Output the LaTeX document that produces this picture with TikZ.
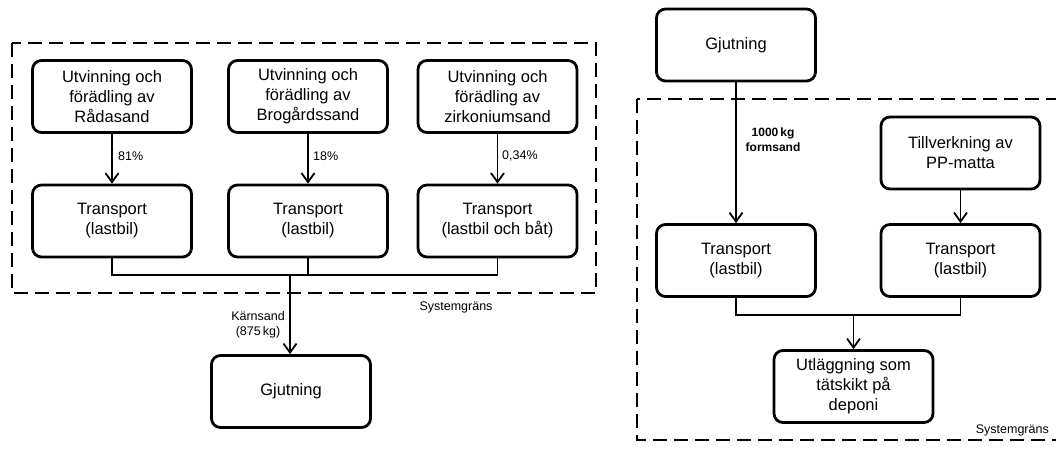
\documentclass[tikz,border=0pt]{standalone}
\usepackage{fontspec}
\setmainfont{Liberation Sans}
\usetikzlibrary{arrows.meta}
\begin{document}
\begin{tikzpicture}[x=1pt,y=-1pt,
  procbox/.style={draw, line width=2.8pt, rounded corners=9pt,
    minimum width=159pt, minimum height=72pt, align=center,
    font=\fontsize{16.5}{20}\selectfont, inner sep=2pt},
  flow/.style={line width=1.6pt,
    -{Straight Barb[length=9pt,width=13pt,line width=1.8pt]}},
  link/.style={line width=1.6pt},
  boundary/.style={line width=2pt, dash pattern=on 14pt off 7pt},
  lbl/.style={font=\fontsize{12.5}{15}\selectfont, inner sep=0pt, align=center}]
\useasboundingbox (0,0) rectangle (1056,449);

% ---------------- core sand system ----------------
\draw[boundary] (12,43) rectangle (596,293);

\node[procbox] (u1) at (112,96.5) {Utvinning och\\förädling av\\Rådasand};
\node[procbox] (u2) at (308,96.5) {Utvinning och\\förädling av\\Brogårdssand};
\node[procbox] (u3) at (497.5,96.5) {Utvinning och\\förädling av\\zirkoniumsand};

\node[procbox] (t1) at (112,221) {Transport\\(lastbil)};
\node[procbox] (t2) at (308,221) {Transport\\(lastbil)};
\node[procbox] (t3) at (497.5,221) {Transport\\(lastbil och båt)};

\draw[flow] (u1) -- (t1);
\draw[flow] (u2) -- (t2);
\draw[flow] (u3) -- (t3);
\node[lbl, anchor=west] (p1) at (118,156) {81\%};
\node[lbl, anchor=west] (p2) at (313,156) {18\%};
\node[lbl, anchor=west] (p3) at (502,156) {0,34\%};

\coordinate (jl) at (112,275);
\coordinate (jm) at (290,275);
\draw[link] (t1.south) -- (t1.south |- jl) -- (t3.south |- jl) -- (t3.south);
\draw[link] (t2.south) -- (t2.south |- jl);

\node[procbox] (g1) at (291,391.5) {Gjutning};
\draw[flow] (jm) -- (jm |- g1.north);
\node[lbl, anchor=east] (ks) at (285,324.5) {Kärnsand\\(875\,kg)};
\node[lbl] (sg1) at (456,307) {Systemgräns};

% ---------------- moulding sand system ----------------
\draw[boundary] (637,99) rectangle (1064,440);

\node[procbox] (g2) at (736,45) {Gjutning};
\node[procbox] (pp) at (960.5,153) {Tillverkning av\\PP-matta};
\node[procbox] (tl) at (736,260.5) {Transport\\(lastbil)};
\node[procbox] (tr) at (960.5,260.5) {Transport\\(lastbil)};
\node[procbox] (ut) at (853.5,386.5) {Utläggning som\\tätskikt på\\deponi};

\draw[flow] (g2) -- (tl);
\node[lbl, font=\fontsize{12}{15}\bfseries] (fs) at (773,139.5) {1000\,kg\\formsand};
\draw[flow] (pp) -- (tr);

\coordinate (jr) at (853.5,315);
\draw[link] (tl.south) -- (tl.south |- jr) -- (tr.south |- jr) -- (tr.south);
\draw[flow] (jr) -- (ut.north);
\node[lbl, anchor=east] (sg2) at (1049,430) {Systemgräns};
\end{tikzpicture}
\end{document}
